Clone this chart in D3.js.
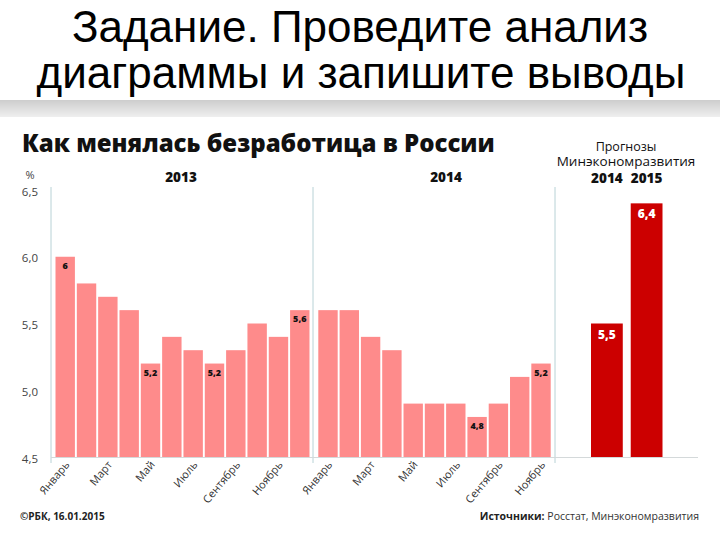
<!DOCTYPE html>
<html><head><meta charset="utf-8">
<script src="https://cdn.jsdelivr.net/npm/d3@7"></script>
<style>body{margin:0;background:#fff}svg{display:block}</style>
</head><body>
<svg id="c" width="720" height="540"></svg>
<script>
const months = ["Январь","Февраль","Март","Апрель","Май","Июнь","Июль","Август","Сентябрь","Октябрь","Ноябрь","Декабрь"];
const values2013 = [6.0,5.8,5.7,5.6,5.2,5.4,5.3,5.2,5.3,5.5,5.4,5.6];
const values2014 = [5.6,5.6,5.4,5.3,4.9,4.9,4.9,4.8,4.9,5.1,5.2];
const forecastYears = ["2014","2015"];
const forecastValues = [5.5,6.4];
const labeled2013 = [0,4,7,11];
const labeled2014 = [7,10];
const yTicks = [4.5,5.0,5.5,6.0,6.5];

const svg = d3.select("#c");
const fmt = v => (Number.isInteger(v) ? String(v) : v.toFixed(1)).replace(".", ",");
const chartFont = "'Open Sans', sans-serif";

// header band
const defs = svg.append("defs");
const g = defs.append("linearGradient").attr("id","band").attr("x1",0).attr("y1",0).attr("x2",0).attr("y2",1);
g.append("stop").attr("offset","0%").attr("stop-color","#cdcdcd");
g.append("stop").attr("offset","100%").attr("stop-color","#efefef");
svg.append("rect").attr("x",0).attr("y",100).attr("width",720).attr("height",17).attr("fill","url(#band)");

svg.append("text").attr("x",360).attr("y",42).attr("text-anchor","middle")
  .style("font-family","'Liberation Sans', Arial, sans-serif").style("font-size","44px").attr("fill","#000")
  .text("Задание. Проведите анализ");
svg.append("text").attr("x",361).attr("y",88).attr("text-anchor","middle")
  .style("font-family","'Liberation Sans', Arial, sans-serif").style("font-size","44px").attr("fill","#000")
  .text("диаграммы и запишите выводы");

// chart title
svg.append("text").attr("x",22).attr("y",152)
  .style("font-family",chartFont).style("font-weight","800").style("font-size","24px").attr("fill","#111")
  .text("Как менялась безработица в России");

const y = d3.scaleLinear().domain([4.5,6.5]).range([457,190]);
const x13 = d3.scaleBand().domain(d3.range(values2013.length)).range([55.5,309.5]).paddingInner(0.09).paddingOuter(0);
const x14 = d3.scaleBand().domain(d3.range(values2014.length)).range([318.3,550.7]).paddingInner(0.09).paddingOuter(0);
const xf = d3.scaleBand().domain(forecastYears).range([591,662.5]).paddingInner(0.2).paddingOuter(0);

// axes lines
const lineCol = "#b8d2d6";
[[51,187],[313,187],[555,187]].forEach(([lx,ty]) => {
  svg.append("line").attr("x1",lx).attr("x2",lx).attr("y1",ty).attr("y2",463).attr("stroke",lineCol).attr("stroke-width",1);
});
svg.append("line").attr("x1",51).attr("x2",698).attr("y1",457.5).attr("y2",457.5).attr("stroke","#d4d9da").attr("stroke-width",1);

// y axis labels
const yAxis = d3.axisLeft(y).tickValues(yTicks).tickSize(0).tickPadding(0).tickFormat(d => d.toFixed(1).replace(".", ","));
const ya = svg.append("g").attr("transform","translate(38,1.5)").call(yAxis);
ya.select(".domain").remove();
ya.selectAll("text").style("font-family",chartFont).style("font-size","11.5px").attr("fill","#444");
svg.append("text").attr("x",30).attr("y",179).attr("text-anchor","middle")
  .style("font-family",chartFont).style("font-size","11px").attr("fill","#444").text("%");

// year headers
const hdr = (t,xx,yy,w,fs) => svg.append("text").attr("x",xx).attr("y",yy).attr("text-anchor","middle")
  .style("font-family",chartFont).style("font-weight",w).style("font-size",fs).attr("fill","#111").text(t);
hdr("2013",181,182,"800","13.5px");
hdr("2014",446,182,"800","13.5px");
hdr("Прогнозы",626,151,"400","12.5px");
hdr("Минэкономразвития",626,165.5,"400","13.5px");
forecastYears.forEach(fy => hdr(fy, xf(fy)+xf.bandwidth()/2, 182.5, "800","13.5px"));

const light = "#fe8b8b", dark = "#cc0000";
function drawSeries(vals, xs, labeled) {
  const gr = svg.append("g");
  gr.selectAll("rect").data(vals).enter().append("rect")
    .attr("x",(d,i)=>xs(i)).attr("width",xs.bandwidth())
    .attr("y",d=>y(d)).attr("height",d=>y(4.5)-y(d)).attr("fill",light);
  gr.selectAll("text.v").data(labeled).enter().append("text").attr("class","v")
    .attr("x",i=>xs(i)+xs.bandwidth()/2).attr("y",i=>y(vals[i])+12).attr("text-anchor","middle")
    .style("font-family",chartFont).style("font-weight","800").style("font-size","9px").attr("fill","#111")
    .text(i=>fmt(vals[i]));
  const ticks = d3.range(0, vals.length, 2);
  gr.selectAll("text.m").data(ticks).enter().append("text").attr("class","m")
    .attr("transform", i => `translate(${xs(i)+xs.bandwidth()/2+5},465) rotate(-50)`)
    .attr("text-anchor","end")
    .style("font-family",chartFont).style("font-size","11px").attr("fill","#333")
    .text(i=>months[i]);
}
drawSeries(values2013, x13, labeled2013);
drawSeries(values2014, x14, labeled2014);

const gf = svg.append("g");
gf.selectAll("rect").data(forecastValues).enter().append("rect")
  .attr("x",(d,i)=>xf(forecastYears[i])).attr("width",xf.bandwidth())
  .attr("y",d=>y(d)).attr("height",d=>y(4.5)-y(d)).attr("fill",dark);
gf.selectAll("text").data(forecastValues).enter().append("text")
  .attr("x",(d,i)=>xf(forecastYears[i])+xf.bandwidth()/2).attr("y",d=>y(d)+15).attr("text-anchor","middle")
  .style("font-family",chartFont).style("font-weight","800").style("font-size","12px").attr("fill","#fff")
  .text(d=>fmt(d));

// footer
svg.append("text").attr("x",20).attr("y",520)
  .style("font-family",chartFont).style("font-weight","700").style("font-size","10px").attr("fill","#222")
  .text("©РБК, 16.01.2015");
const src = svg.append("text").attr("x",699).attr("y",520).attr("text-anchor","end")
  .style("font-family",chartFont).style("font-size","10.5px").attr("fill","#333");
src.append("tspan").style("font-weight","700").attr("fill","#222").text("Источники: ");
src.append("tspan").text("Росстат, Минэкономразвития");
</script>
</body></html>
